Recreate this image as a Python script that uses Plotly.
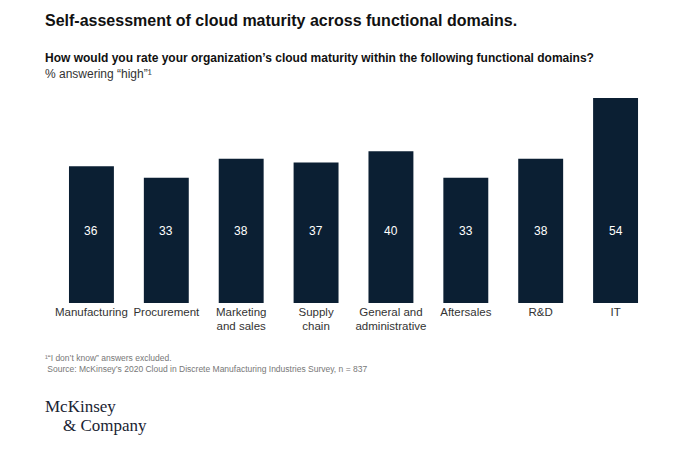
import plotly.graph_objects as go

domains = ['Manufacturing', 'Procurement', 'Marketing<br>and sales', 'Supply<br>chain',
           'General and<br>administrative', 'Aftersales', 'R&D', 'IT']
high_pct = [36, 33, 38, 37, 40, 33, 38, 54]

navy = '#0b1f33'

fig = go.Figure(go.Bar(
    x=domains, y=high_pct, marker=dict(color=navy, line=dict(width=0)),
    textposition='none', hoverinfo='skip'
))

# value labels sit low inside each bar
for d, v in zip(domains, high_pct):
    fig.add_annotation(x=d, y=19, text=str(v), showarrow=False,
                       font=dict(color='white', size=12, family='Liberation Sans'))

fig.update_layout(
    width=700, height=455, plot_bgcolor='white', paper_bgcolor='white',
    margin=dict(l=46, r=55, t=90, b=160, autoexpand=False),
    bargap=0.4, showlegend=False,
    font=dict(family='Liberation Sans', color='#222'),
    xaxis=dict(showline=False, ticks='', automargin=False, tickfont=dict(size=11.5, color='#333')),
    yaxis=dict(range=[0, 54], visible=False, automargin=False),
)

x0 = -0.018
fig.add_annotation(xref='paper', yref='paper', x=x0, y=1.0, yshift=78, xanchor='left', yanchor='middle',
                   text='<b>Self-assessment of cloud maturity across functional domains.</b>',
                   showarrow=False, font=dict(size=16, color='#111'))
fig.add_annotation(xref='paper', yref='paper', x=x0, y=1.0, yshift=40, xanchor='left', yanchor='middle',
                   text='<b>How would you rate your organization’s cloud maturity within the following functional domains?</b>',
                   showarrow=False, font=dict(size=12, color='#111'))
fig.add_annotation(xref='paper', yref='paper', x=x0, y=1.0, yshift=24, xanchor='left', yanchor='middle',
                   text='% answering “high”¹', showarrow=False, font=dict(size=12, color='#333'))
fig.add_annotation(xref='paper', yref='paper', x=x0, y=0, yshift=-48, xanchor='left', yanchor='top',
                   text='¹“I don’t know” answers excluded.<br> Source: McKinsey’s 2020 Cloud in Discrete Manufacturing Industries Survey, n = 837',
                   showarrow=False, align='left', font=dict(size=8.5, color='#777'))
fig.add_annotation(xref='paper', yref='paper', x=x0, y=0, yshift=-92, xanchor='left', yanchor='top',
                   text='McKinsey', showarrow=False,
                   font=dict(size=17, color='#1a2433', family='Liberation Serif'))
fig.add_annotation(xref='paper', yref='paper', x=x0, xshift=18, y=0, yshift=-111, xanchor='left', yanchor='top',
                   text='& Company', showarrow=False,
                   font=dict(size=17, color='#1a2433', family='Liberation Serif'))

fig.write_html('out.html')
